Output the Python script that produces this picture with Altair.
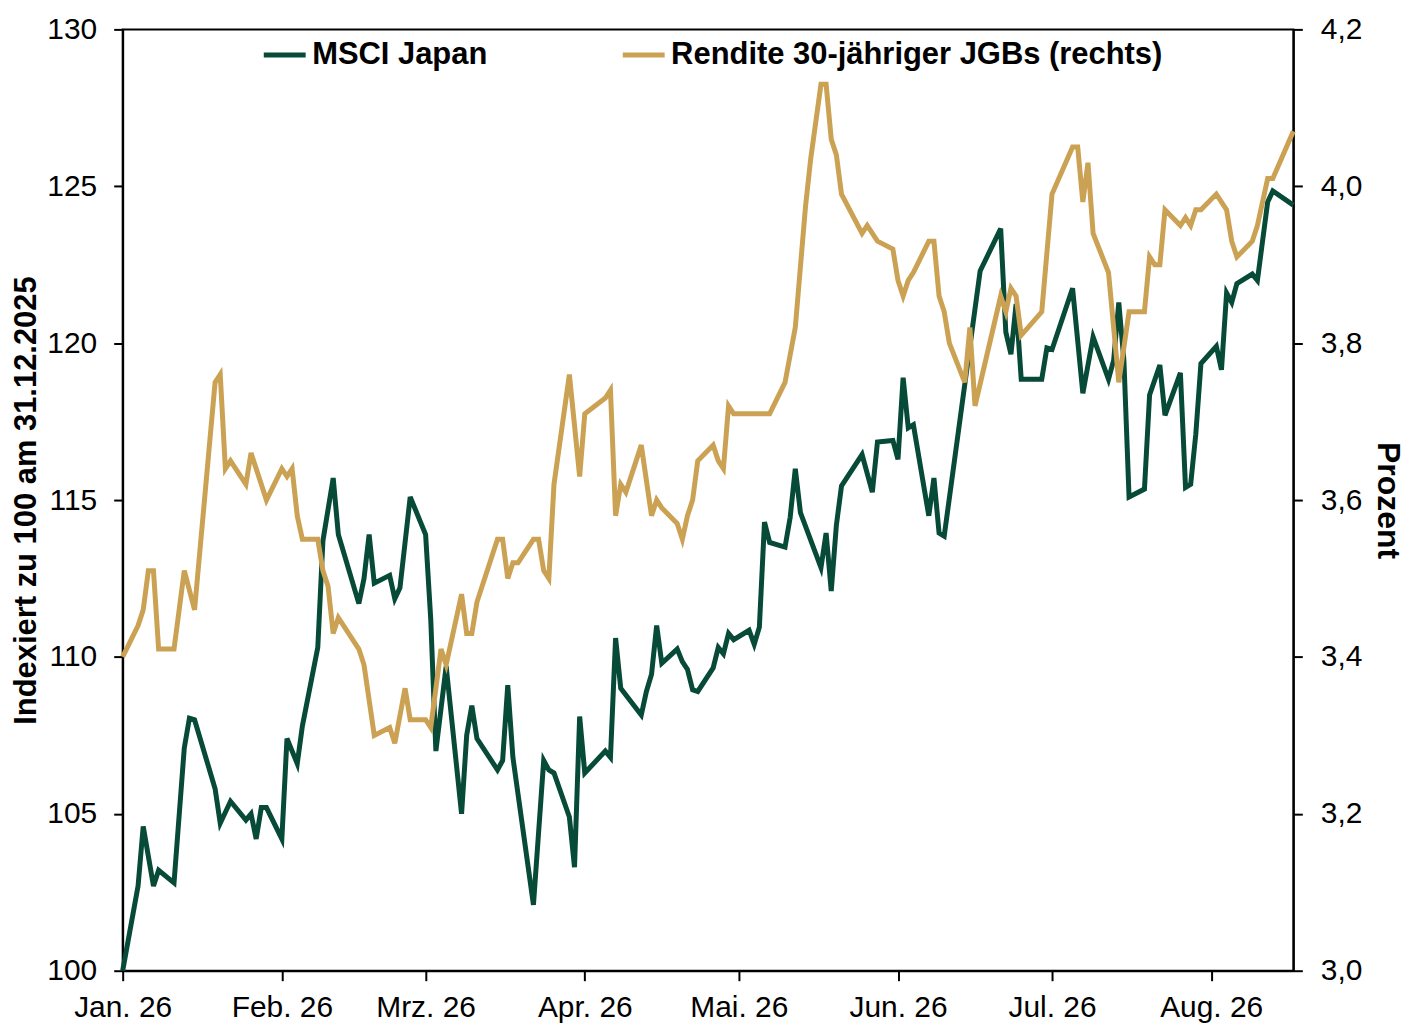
import altair as alt
import pandas as pd
from datetime import date, timedelta

# ---------------- data ----------------
START = date(2026, 1, 1)
END = date(2026, 8, 17)

SERIES = ["MSCI Japan", "Rendite 30-jähriger JGBs (rechts)"]
COLORS = ["#064a37", "#cba153"]

MONTH_LABELS = ["Jan.", "Feb.", "Mrz.", "Apr.", "Mai.", "Jun.", "Jul.", "Aug.", "Sep.", "Okt.", "Nov.", "Dez."]

left_ticks = [100, 105, 110, 115, 120, 125, 130]
right_ticks = [3.0, 3.2, 3.4, 3.6, 3.8, 4.0, 4.2]

# days since 1 Jan 2026
msci_tage = [0, 3, 4, 6, 7, 10, 12, 13, 14, 18, 19, 21, 24, 25, 26, 27, 28, 31, 32, 34,
             35, 38, 39, 41, 42, 46, 47, 48, 49, 52, 53, 54, 56, 59, 60, 61, 63, 66, 67, 68,
             69, 73, 74, 75, 76, 80, 82, 83, 84, 87, 88, 89, 90, 94, 95, 96, 97, 101, 102, 103,
             104, 105, 108, 109, 110, 111, 112, 115, 116, 117, 118, 119, 122, 123, 124, 125, 126, 129, 130, 131,
             132, 136, 137, 138, 139, 140, 144, 146, 147, 150, 151, 152, 153, 154, 157, 158, 159, 160, 167, 171,
             172, 173, 174, 175, 179, 180, 181, 185, 187, 189, 192, 193, 194, 195, 196, 199, 200, 202, 203, 206,
             207, 208, 209, 210, 213, 214, 215, 216, 217, 220, 221, 223, 224, 228]
msci_werte = [100.0, 102.7, 104.6, 102.7, 103.2, 102.8, 107.1, 108.05, 108.0, 105.8, 104.7, 105.4, 104.8, 105.0, 104.2, 105.2, 105.2, 104.2, 107.4, 106.6,
              107.8, 110.3, 113.7, 115.7, 113.9, 111.7, 112.5, 113.9, 112.35, 112.6, 111.85, 112.2, 115.1, 113.9, 111.2, 107.0, 109.7, 105.0, 107.5, 108.45,
              107.4, 106.4, 106.7, 109.1, 106.8, 102.1, 106.7, 106.4, 106.3, 104.9, 103.3, 108.1, 106.3, 107.0, 106.8, 110.6, 109.0, 108.15, 108.9, 109.45,
              111.0, 109.8, 110.25, 109.85, 109.6, 108.95, 108.9, 109.65, 110.3, 110.1, 110.75, 110.55, 110.85, 110.4, 110.95, 114.3, 113.65, 113.5, 114.45, 116.0,
              114.6, 112.85, 113.95, 112.1, 114.2, 115.45, 116.45, 115.25, 116.85, 116.9, 116.3, 118.9, 117.3, 117.4, 114.5, 115.7, 113.95, 113.85, 122.3, 123.65,
              120.35, 119.65, 121.25, 118.85, 118.85, 119.85, 119.8, 121.75, 118.4, 120.2, 118.85, 119.45, 121.3, 119.45, 115.1, 115.35, 118.35, 119.3, 117.7, 119.05,
              115.4, 115.5, 117.1, 119.35, 119.9, 119.15, 121.6, 121.3, 121.9, 122.2, 122.0, 124.5, 124.85, 124.4]

jgb_tage = [0, 3, 4, 5, 6, 7, 10, 12, 14, 18, 19, 20, 21, 24, 25, 28, 31, 32, 33, 34,
            35, 38, 39, 40, 41, 42, 46, 47, 49, 52, 53, 55, 56, 59, 60, 62, 63, 66, 67, 68,
            69, 73, 74, 75, 76, 77, 80, 81, 82, 83, 84, 87, 89, 90, 94, 95, 96, 97, 98, 101,
            103, 104, 105, 108, 109, 110, 111, 112, 115, 116, 117, 118, 119, 126, 129, 131, 133, 134, 136, 137,
            138, 139, 140, 144, 145, 147, 150, 151, 152, 153, 154, 157, 158, 159, 160, 161, 164, 165, 166, 171,
            172, 173, 174, 175, 179, 181, 185, 186, 187, 188, 189, 192, 194, 196, 199, 200, 201, 202, 203, 206,
            207, 208, 209, 210, 213, 215, 216, 217, 220, 221, 223, 224, 228]
jgb_werte = [3.40, 3.44, 3.46, 3.51, 3.51, 3.41, 3.41, 3.51, 3.46, 3.75, 3.76, 3.64, 3.65, 3.62, 3.66, 3.60, 3.64, 3.63, 3.64, 3.58,
             3.55, 3.55, 3.51, 3.49, 3.43, 3.45, 3.41, 3.39, 3.30, 3.31, 3.29, 3.36, 3.32, 3.32, 3.31, 3.41, 3.39, 3.48, 3.43, 3.43,
             3.47, 3.55, 3.55, 3.50, 3.52, 3.52, 3.55, 3.55, 3.51, 3.50, 3.62, 3.76, 3.63, 3.71, 3.73, 3.74, 3.58, 3.62, 3.61, 3.67,
             3.58, 3.60, 3.59, 3.57, 3.55, 3.58, 3.60, 3.65, 3.67, 3.65, 3.64, 3.72, 3.71, 3.71, 3.75, 3.82, 3.975, 4.035, 4.13, 4.13,
             4.06, 4.04, 3.99, 3.94, 3.95, 3.93, 3.92, 3.88, 3.86, 3.88, 3.89, 3.93, 3.93, 3.86, 3.84, 3.80, 3.75, 3.82, 3.72, 3.86,
             3.84, 3.87, 3.86, 3.81, 3.84, 3.99, 4.05, 4.05, 3.98, 4.03, 3.94, 3.89, 3.75, 3.84, 3.84, 3.91, 3.90, 3.90, 3.97, 3.95,
             3.96, 3.95, 3.97, 3.97, 3.99, 3.97, 3.93, 3.91, 3.93, 3.95, 4.01, 4.01, 4.07]


def to_dates(days):
    return [(START + timedelta(days=d)).isoformat() for d in days]


msci_df = pd.DataFrame({"Datum": to_dates(msci_tage), "Wert": msci_werte, "Reihe": SERIES[0]})
jgb_df = pd.DataFrame({"Datum": to_dates(jgb_tage), "Wert": jgb_werte, "Reihe": SERIES[1]})

FONT = "Liberation Sans"


def dt(d):
    return alt.DateTime(year=d.year, month=d.month, date=d.day, utc=True)


month_expr = "[" + ",".join("'%s'" % m for m in MONTH_LABELS) + "][utcmonth(datum.value)] + ' ' + utcFormat(datum.value, '%y')"

x_enc = alt.X(
    "Datum:T",
    scale=alt.Scale(type="utc", domain=[dt(START), dt(END)]),
    axis=alt.Axis(
        title=None,
        values=[dt(date(2026, m, 1)) for m in range(1, 9)],
        labelExpr=month_expr,
        labelFlush=False,
        labelOverlap=False,
        tickSize=10,
        labelPadding=12,
        grid=False,
    ),
)

color_enc = alt.Color(
    "Reihe:N",
    scale=alt.Scale(domain=SERIES, range=COLORS),
    legend=alt.Legend(
        title=None,
        orient="none",
        legendX=139,
        legendY=2,
        direction="horizontal",
        symbolType="stroke",
        symbolSize=1764,
        symbolStrokeWidth=5,
        labelFont=FONT,
        labelFontSize=31,
        labelFontWeight="bold",
        labelColor="black",
        labelLimit=1000,
        labelOffset=4,
        columnPadding=125,
        padding=0,
    ),
)

left = alt.Chart(msci_df).mark_line(strokeWidth=5).encode(
    x=x_enc,
    y=alt.Y(
        "Wert:Q",
        scale=alt.Scale(domain=[100, 130], nice=False, zero=False),
        axis=alt.Axis(
            title="Indexiert zu 100 am 31.12.2025",
            orient="left",
            values=left_ticks,
            labelFlush=False,
            labelPadding=17,
            titlePadding=4,
            titleFontSize=31,
            grid=False,
        ),
    ),
    color=color_enc,
)

right = alt.Chart(jgb_df).mark_line(strokeWidth=5).encode(
    x=x_enc,
    y=alt.Y(
        "Wert:Q",
        scale=alt.Scale(domain=[3.0, 4.2], nice=False, zero=False),
        axis=alt.Axis(
            title="Prozent",
            orient="right",
            values=right_ticks,
            labelExpr="replace(format(datum.value, '.1f'), '.', ',')",
            labelFlush=False,
            labelPadding=18,
            titlePadding=9,
            grid=False,
        ),
    ),
    color=color_enc,
)

chart = (
    alt.layer(left, right)
    .resolve_scale(y="independent")
    .properties(
        width=1174,
        height=944,
        autosize=alt.AutoSizeParams(type="none"),
        padding={"left": 115, "top": 20, "right": 125, "bottom": 55},
        background="white",
    )
    .configure_view(stroke="black", strokeWidth=2)
    .configure_axis(
        labelFont=FONT,
        labelFontSize=30,
        labelColor="black",
        titleFont=FONT,
        titleFontSize=32,
        titleFontWeight="bold",
        titleColor="black",
        domainColor="black",
        domainWidth=2,
        tickColor="black",
        tickWidth=2,
        tickSize=9,
    )
)

chart.save("out.html", embed_options={"renderer": "svg", "actions": False})
